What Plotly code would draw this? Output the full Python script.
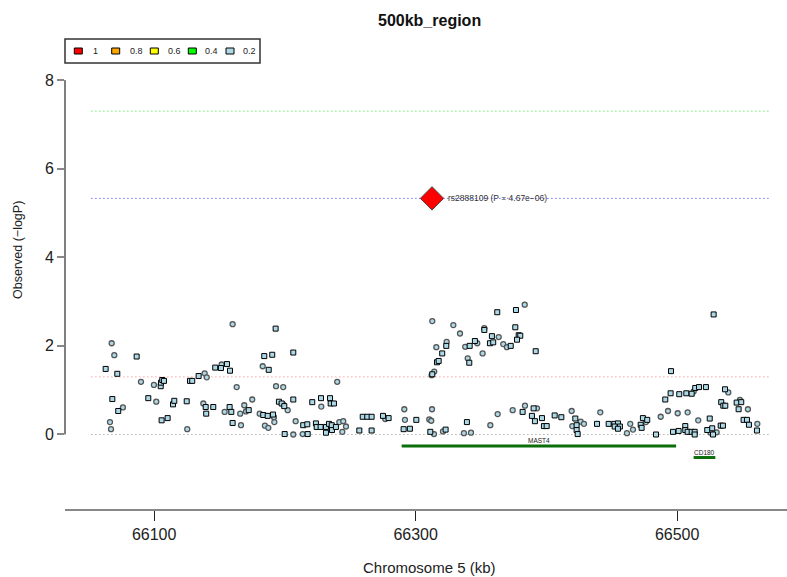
import plotly.graph_objects as go

# ---------------- data ----------------
title_text = "500kb_region"
x_title = "Chromosome 5 (kb)"
y_title = "Observed (\u2212logP)"
x_ticks = [66100, 66300, 66500]
x_tick_labels = ["66100", "66300", "66500"]
y_ticks = [0, 2, 4, 6, 8]
y_tick_labels = ["0", "2", "4", "6", "8"]

# genotyped SNPs (squares): position (kb), -log10(P)
geno_pos = [66062.9, 66071.8, 66086.6, 66105.0, 66105.2, 66106.2, 66107.5, 66192.9, 66184.2, 66190.3,
            66187.6, 66127.4, 66129.1, 66134.0, 66146.7, 66151.1, 66155.7, 66158.0, 66068.0, 66072.5,
            66095.5, 66105.7, 66110.3, 66114.4, 66115.4, 66124.9, 66139.4, 66139.8, 66145.2, 66157.7,
            66159.0, 66160.0, 66172.3, 66183.4, 66186.8, 66190.9, 66195.4, 66197.5, 66199.5, 66199.8,
            66206.4, 66206.4, 66220.9, 66227.6, 66234.5, 66235.0, 66237.5, 66214.0, 66217.1, 66217.4,
            66223.7, 66224.3, 66227.3, 66231.4, 66231.4, 66233.7, 66235.8, 66236.0, 66239.0, 66256.9,
            66259.5, 66263.0, 66266.3, 66266.3, 66275.0, 66279.3, 66290.8, 66295.6, 66300.5, 66311.2,
            66312.7, 66316.3, 66317.6, 66320.3, 66323.4, 66341.3, 66341.0, 66345.3, 66352.5, 66356.8,
            66359.3, 66358.3, 66362.4, 66372.7, 66376.7, 66376.2, 66378.8, 66380.0, 66377.5, 66391.8,
            66322.9, 66339.2, 66381.8, 66390.2, 66388.9, 66391.2, 66396.6, 66398.1, 66400.2, 66527.9,
            66495.3, 66406.3, 66411.4, 66422.1, 66423.1, 66423.1, 66423.9, 66438.7, 66447.6, 66451.9,
            66454.7, 66452.2, 66456.2, 66454.7, 66472.1, 66472.8, 66473.8, 66477.1, 66483.8, 66490.9,
            66495.0, 66496.8, 66501.1, 66501.6, 66507.0, 66511.1, 66513.8, 66516.7, 66522.0, 66506.2,
            66506.2, 66508.0, 66511.1, 66513.4, 66513.4, 66524.9, 66523.0, 66526.8, 66527.4, 66533.3,
            66535.0, 66536.6, 66533.7, 66535.3, 66536.8, 66545.5, 66549.0, 66547.0, 66550.8, 66553.4,
            66554.9, 66561.0]
geno_logp = [1.48, 1.37, 1.76, 1.09, 1.17, 1.23, 1.21, 2.39, 1.77, 1.80,
             1.46, 1.21, 1.21, 1.32, 1.51, 1.50, 1.59, 1.44, 0.80, 0.53,
             0.82, 0.32, 0.37, 0.68, 0.76, 0.75, 0.62, 0.47, 0.62, 0.62,
             0.51, 0.26, 0.55, 0.44, 0.42, 0.45, 0.74, 0.70, 0.64, 0.01,
             1.85, 0.79, 0.73, 0.82, 0.82, 0.70, 0.70, 0.21, 0.23, 0.01,
             0.25, 0.17, 0.17, 0.17, 0.04, 0.24, 0.21, 0.10, 0.17, 0.09,
             0.40, 0.40, 0.40, 0.09, 0.42, 0.37, 0.12, 0.13, 0.33, 0.06,
             1.36, 1.63, 1.66, 1.83, 2.00, 2.00, 1.62, 2.11, 2.36, 2.06,
             2.08, 2.22, 2.76, 2.00, 2.81, 2.42, 2.24, 2.23, 2.14, 1.88,
             0.11, 0.28, 0.51, 0.59, 0.42, 0.30, 0.37, 0.19, 0.19, 2.71,
             1.43, 0.43, 0.39, 0.36, 0.21, 0.10, 0.01, 0.24, 0.24, 0.24,
             0.25, 0.18, 0.18, 0.13, 0.22, 0.15, 0.37, 0.33, 0.00, 0.79,
             0.93, 0.06, 0.08, 0.91, 0.93, 0.92, 1.05, 1.07, 1.07, 0.19,
             0.10, 0.06, 0.06, 0.06, 0.00, 0.36, 0.10, 0.14, 0.00, 0.20,
             0.20, 1.02, 0.73, 0.65, 0.65, 0.72, 0.73, 0.57, 0.33, 0.33,
             0.22, 0.09]

# imputed SNPs (circles)
imp_pos = [66067.5, 66069.5, 66089.9, 66099.8, 66160.0, 66183.0, 66193.2, 66198.7, 66138.6, 66140.2,
           66151.6, 66163.1, 66076.1, 66066.2, 66067.0, 66101.6, 66125.3, 66137.6, 66153.9, 66165.8,
           66166.4, 66168.9, 66170.2, 66175.0, 66180.7, 66191.6, 66191.9, 66184.7, 66187.3, 66198.7,
           66202.1, 66208.2, 66206.4, 66240.0, 66227.8, 66213.6, 66241.6, 66244.6, 66243.9, 66246.7,
           66276.7, 66291.3, 66291.8, 66312.7, 66312.5, 66310.4, 66311.9, 66314.0, 66314.2, 66312.2,
           66315.8, 66323.7, 66328.8, 66333.9, 66337.9, 66339.8, 66347.1, 66351.2, 66352.5, 66363.5,
           66367.0, 66369.8, 66383.4, 66320.9, 66336.9, 66342.3, 66357.1, 66362.7, 66374.2, 66383.6,
           66392.8, 66419.3, 66419.8, 66426.2, 66428.7, 66441.2, 66461.6, 66464.1, 66466.2, 66476.1,
           66487.4, 66493.0, 66500.4, 66512.6, 66508.0, 66516.1, 66525.6, 66530.2, 66539.1, 66548.0,
           66554.1, 66561.3]
imp_logp = [2.06, 1.79, 1.19, 1.12, 2.49, 1.54, 1.09, 1.07, 1.38, 1.29,
            1.58, 1.07, 0.61, 0.28, 0.12, 0.74, 0.12, 0.70, 0.51, 0.47,
            0.21, 0.66, 0.52, 0.79, 0.47, 0.39, 0.28, 0.20, 0.15, 0.68,
            0.55, 0.30, 0.00, 1.19, 0.63, 0.01, 0.28, 0.30, 0.06, 0.18,
            0.35, 0.57, 0.33, 2.56, 0.57, 0.34, 0.31, 0.01, 1.42, 1.34,
            1.97, 2.09, 2.47, 2.28, 1.98, 1.72, 2.06, 1.83, 2.40, 2.20,
            2.04, 1.97, 2.93, 0.07, 0.03, 0.04, 0.21, 0.46, 0.55, 0.65,
            0.59, 0.53, 0.19, 0.29, 0.24, 0.50, 0.03, 0.24, 0.11, 0.28,
            0.40, 0.53, 0.48, 0.97, 0.50, 0.32, 0.04, 0.05, 0.95, 0.78,
            0.57, 0.24]

# top SNP
top_snp = "rs2888109"
top_pos = 66312.5
top_logp = 5.33
top_p_text = "4.67e\u221206"

# significance / reference lines
ref_levels = [7.3, top_logp, 1.3, 0.0]
ref_colors = ["#22ee22", "#2a2aff", "#ff7777", "#888888"]
ref_span = [66052, 66572]

# genes
gene_names = ["MAST4", "CD180"]
gene_start = [66289.3, 66512.6]
gene_end = [66499.2, 66529.2]
gene_level = [-0.26, -0.52]

# LD legend
ld_labels = ["1", "0.8", "0.6", "0.4", "0.2"]
ld_colors = ["#FF0000", "#FFA500", "#FFFF00", "#00FF00", "#ADD8E6"]

# ---------------- figure ----------------
W, H = 787, 577
ML, MR, MT, MB = 65, 0, 65, 68
PW, PH = W - ML - MR, H - MT - MB
FONT = "Liberation Sans, Arial, sans-serif"


def px(xp):
    return (xp - ML) / PW


def py(yp):
    return (H - MB - yp) / PH


fig = go.Figure()

for lvl, col in zip(ref_levels, ref_colors):
    fig.add_trace(go.Scatter(x=ref_span, y=[lvl, lvl], mode="lines",
                             line=dict(color=col, width=1, dash="1px,3px"),
                             hoverinfo="skip", showlegend=False))

for name, s, e, lv in zip(gene_names, gene_start, gene_end, gene_level):
    fig.add_trace(go.Scatter(x=[s, e], y=[lv, lv], mode="lines",
                             line=dict(color="#0b6e0b", width=3),
                             hoverinfo="skip", showlegend=False))
    fig.add_annotation(x=(s + e) / 2, y=lv, text=name, showarrow=False,
                       yanchor="bottom", yshift=0,
                       font=dict(family=FONT, size=6.5, color="#222222"))

fig.add_trace(go.Scatter(x=imp_pos, y=imp_logp, mode="markers",
                         marker=dict(symbol="circle", size=5, color=ld_colors[4],
                                     line=dict(color="#555555", width=1.3)),
                         showlegend=False))
fig.add_trace(go.Scatter(x=geno_pos, y=geno_logp, mode="markers",
                         marker=dict(symbol="square", size=5, color=ld_colors[4],
                                     line=dict(color="#000000", width=1)),
                         showlegend=False))
fig.add_trace(go.Scatter(x=[top_pos], y=[top_logp], mode="markers",
                         marker=dict(symbol="diamond", size=18, color=ld_colors[0],
                                     line=dict(color="#444444", width=1)),
                         showlegend=False))
fig.add_annotation(x=top_pos, y=top_logp, text=f"{top_snp} (P = {top_p_text})",
                   showarrow=False, xanchor="left", xshift=14,
                   font=dict(family=FONT, size=8.5, color="#333333"))

shapes = []
# y axis line from 0 to 8
shapes.append(dict(type="line", xref="paper", yref="y", x0=0, x1=0, y0=y_ticks[0], y1=y_ticks[-1],
                   line=dict(color="#000000", width=1)))
# legend box
shapes.append(dict(type="rect", xref="paper", yref="paper", x0=px(65), x1=px(260), y0=py(63), y1=py(39),
                   line=dict(color="#333333", width=1.5), fillcolor="white"))
sq_x = [74.3, 111.7, 150.3, 188.3, 226.0]
lab_x = [91, 128.3, 165.7, 203.3, 241]
for i, (lab, col) in enumerate(zip(ld_labels, ld_colors)):
    shapes.append(dict(type="rect", xref="paper", yref="paper", x0=px(sq_x[i]), x1=px(sq_x[i] + 8),
                       y0=py(54), y1=py(48), line=dict(color="#000000", width=1), fillcolor=col))
    fig.add_annotation(xref="paper", yref="paper", x=px(lab_x[i]), y=py(51), text=lab, showarrow=False,
                       xanchor="left", yanchor="middle",
                       font=dict(family=FONT, size=9, color="#222222"))

fig.add_annotation(xref="paper", yref="paper", x=px(430), y=py(20), text=f"<b>{title_text}</b>",
                   showarrow=False, xanchor="center", yanchor="middle",
                   font=dict(family=FONT, size=16, color="#111111"))
fig.add_annotation(xref="paper", yref="paper", x=px(430), y=py(567), text=x_title,
                   showarrow=False, xanchor="center", yanchor="middle",
                   font=dict(family=FONT, size=15, color="#222222"))
fig.add_annotation(xref="paper", yref="paper", x=px(18), y=py(250), text=y_title, textangle=-90,
                   showarrow=False, xanchor="center", yanchor="middle",
                   font=dict(family=FONT, size=12.5, color="#222222"))

fig.update_layout(
    width=W, height=H, margin=dict(l=ML, r=MR, t=MT, b=MB),
    paper_bgcolor="white", plot_bgcolor="white", showlegend=False,
    shapes=shapes,
    xaxis=dict(range=[66031.8, 66584.0], tickmode="array", tickvals=x_ticks, ticktext=x_tick_labels,
               ticks="outside", ticklen=10,
               tickcolor="#222222", tickwidth=1, showline=True, linecolor="#888888", linewidth=2,
               showgrid=False, zeroline=False,
               tickfont=dict(family=FONT, size=16, color="#222222")),
    yaxis=dict(range=[-1.682, 8.341], tickmode="array", tickvals=y_ticks, ticktext=y_tick_labels,
               ticks="outside", ticklen=7,
               tickcolor="#888888", tickwidth=1.5, showline=False, showgrid=False, zeroline=False,
               tickfont=dict(family=FONT, size=16, color="#222222")),
)

fig.write_html("out.html")
